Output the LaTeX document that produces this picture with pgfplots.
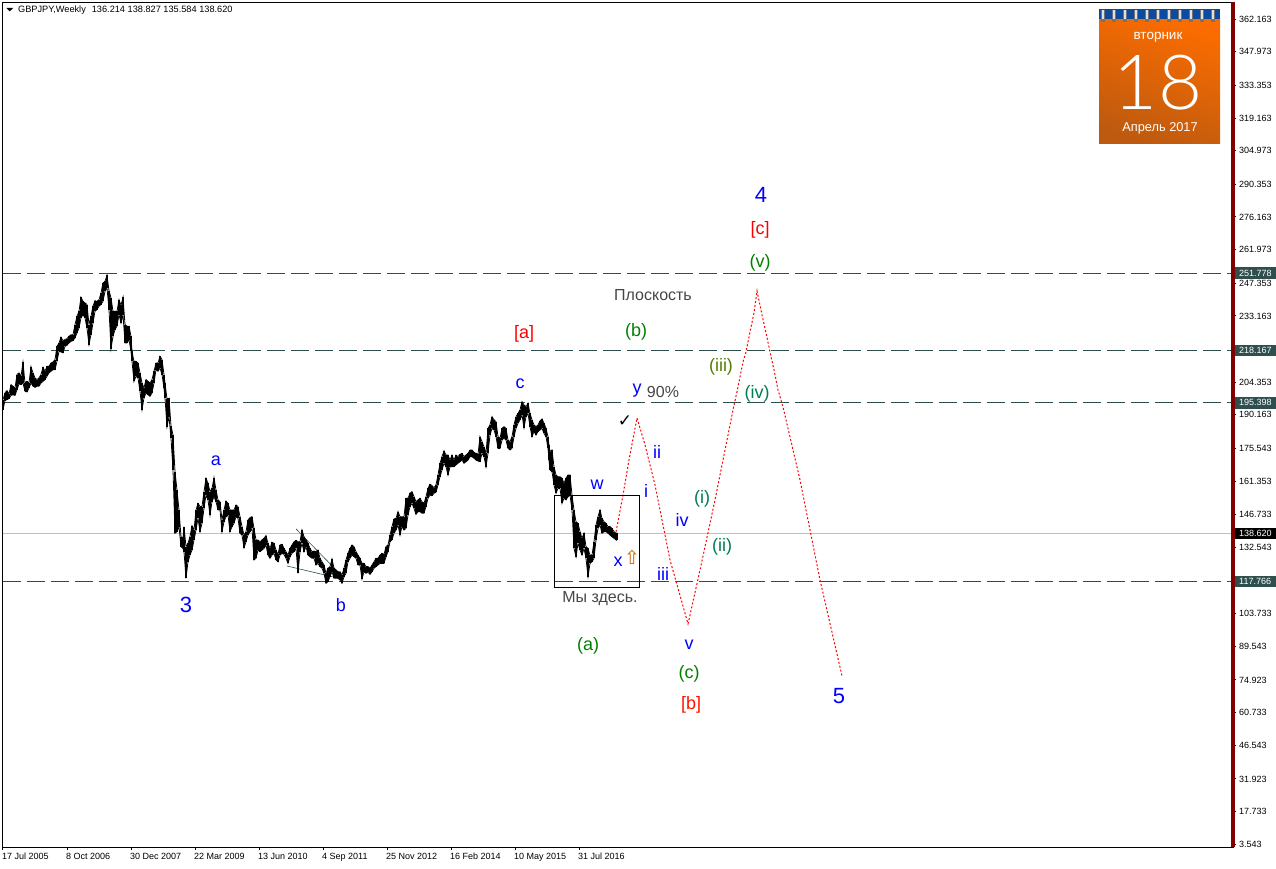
\documentclass[border=0pt]{standalone}
\usepackage{fontspec}
\setmainfont{Liberation Sans}
\newfontfamily\symfont{DejaVu Sans}
\newfontfamily\calfont[UprightFont=* Light]{Lato}
\usepackage{pgfplots}
\usepackage{pgfplotstable}
\pgfplotsset{compat=1.18}

\definecolor{lvl}{RGB}{47,79,79}
\definecolor{axred}{RGB}{128,0,0}
\definecolor{wblue}{RGB}{0,0,255}
\definecolor{wgreen}{RGB}{0,128,0}
\definecolor{wteal}{RGB}{0,125,80}
\definecolor{wolive}{RGB}{85,125,0}
\definecolor{wgray}{RGB}{70,70,70}
\definecolor{calblue}{RGB}{10,75,160}
\definecolor{calA}{RGB}{250,108,0}
\definecolor{calB}{RGB}{190,90,15}

% weekly low / high, x = bar number
\pgfplotstableread{
w lo hi
3 192.4 196.8
5 196.4 199.7
7 196.8 200.7
9 197.2 199.2
11 198.6 203.3
13 198.9 202.6
15 198.6 201.8
17 201.1 207.7
19 203.6 208.4
21 203.3 206.9
23 204.0 213.0
25 200.4 204.0
27 200.1 204.7
29 201.8 204.0
31 204.0 211.1
33 202.6 208.4
35 202.1 206.2
37 202.6 205.5
39 202.6 206.2
41 204.0 207.7
43 204.7 210.8
45 205.5 209.1
47 206.9 211.3
49 208.4 211.3
51 209.1 212.7
53 209.8 213.1
55 209.8 214.2
57 213.4 219.9
59 217.8 221.4
61 217.5 223.9
63 217.1 222.4
65 219.9 222.9
67 220.4 223.3
69 221.4 224.3
71 222.1 225.0
73 222.4 225.0
75 223.6 229.4
77 225.8 233.0
79 227.9 235.2
81 232.3 241.3
83 233.7 239.5
85 232.3 238.8
87 227.9 238.1
89 220.7 229.4
91 225.0 233.0
93 230.1 237.4
95 235.2 239.8
97 235.9 239.5
99 237.4 240.2
101 238.1 243.1
103 239.5 247.5
105 243.9 248.2
107 245.3 250.8
109 235.9 244.2
111 218.9 241.0
113 224.3 235.2
115 227.2 235.2
117 228.7 235.2
119 233.7 240.2
121 230.1 237.8
123 233.7 241.3
125 221.4 229.4
127 221.4 228.7
129 222.9 228.7
131 217.8 224.3
132 213.4 217.8
134 204.7 213.4
136 206.9 213.4
138 206.2 212.7
140 200.4 208.4
142 192.4 204.0
144 197.5 201.8
146 199.7 205.5
148 198.9 204.7
150 198.2 204.0
152 199.7 205.5
154 204.0 209.1
156 209.8 212.7
158 209.1 212.7
160 210.5 215.6
162 207.7 214.2
164 201.8 207.7
165 197.5 204.0
167 185.0 197.1
169 189.4 197.4
171 180.0 185.5
173 166.2 181.4
175 138.7 165.5
177 139.4 157.5
179 141.6 148.8
181 132.9 137.2
183 132.1 136.5
184 130.7 141.6
186 119.1 132.9
188 126.3 134.3
190 129.2 137.2
192 131.4 142.0
194 135.8 140.1
196 140.1 148.8
198 145.2 151.7
200 139.4 150.3
202 143.0 150.3
204 149.5 156.8
206 155.3 162.6
208 153.2 160.4
210 146.6 156.8
212 152.4 158.2
214 154.6 162.9
216 152.4 157.5
218 148.8 153.2
220 148.8 152.4
222 139.4 144.5
224 143.7 148.8
226 145.9 152.7
228 146.6 151.7
230 139.4 148.8
232 141.6 148.8
234 143.0 148.8
236 145.9 151.0
238 145.2 150.3
240 138.7 145.9
242 137.9 141.6
244 132.4 137.9
246 135.0 139.4
248 137.9 144.5
250 139.4 145.5
252 140.8 145.9
254 127.1 140.8
256 127.8 135.8
258 131.4 135.8
260 130.7 135.0
262 131.4 135.8
264 132.1 136.5
266 133.6 137.7
268 129.2 134.3
270 127.8 132.1
272 129.2 134.8
274 130.0 134.3
276 127.1 131.4
278 126.3 129.5
280 129.2 133.6
282 130.0 133.9
284 129.5 132.1
286 127.8 130.7
288 125.6 129.2
290 128.5 132.1
292 130.0 133.6
294 130.7 135.0
296 132.1 135.6
298 121.3 135.0
300 130.7 135.0
302 134.3 140.1
304 130.7 137.2
306 132.9 135.8
308 129.2 134.3
310 128.5 132.1
312 127.8 130.7
314 127.8 131.0
316 124.9 130.7
318 125.6 131.4
320 124.2 127.8
322 123.5 126.3
324 121.3 124.9
326 116.9 121.3
328 117.7 123.5
330 119.8 124.2
332 122.0 127.5
334 119.1 123.5
336 119.1 122.7
338 119.1 122.0
340 118.4 122.0
342 116.9 120.6
344 119.8 123.5
346 121.3 127.1
348 126.3 130.0
350 127.8 132.1
352 129.2 133.6
354 128.5 132.9
356 127.8 130.7
358 124.9 129.2
360 124.9 127.8
362 118.8 125.6
364 122.0 125.6
366 121.3 124.2
368 121.7 124.2
370 120.8 123.5
372 122.0 124.9
374 123.5 126.3
376 124.2 127.8
378 124.9 127.8
380 125.6 129.2
382 125.6 130.0
384 125.6 129.5
386 128.5 132.9
388 130.7 133.6
390 135.0 137.9
392 135.8 141.6
394 138.7 144.9
396 140.1 145.2
398 142.3 148.1
400 137.9 145.9
402 141.6 145.9
404 140.1 145.9
406 140.8 153.9
408 146.6 153.9
410 150.3 156.1
412 151.7 156.8
414 149.5 154.6
416 146.9 152.4
418 148.1 153.2
420 148.1 153.9
422 147.4 152.4
424 147.4 151.7
426 150.3 154.6
428 153.9 158.2
430 155.3 160.0
432 155.0 159.4
434 156.1 158.5
436 156.5 159.7
438 159.7 164.0
440 163.3 169.1
442 166.2 172.0
444 169.1 174.5
446 167.6 172.7
448 164.0 172.7
450 167.6 170.5
452 167.6 172.7
454 167.6 170.5
456 168.4 172.7
458 169.1 172.0
460 169.8 173.0
462 170.5 173.4
464 169.1 172.0
466 169.8 172.7
468 170.5 173.4
470 172.0 174.9
472 172.0 174.9
474 171.3 173.9
476 170.5 173.4
478 170.1 173.0
480 169.8 180.7
482 173.4 178.5
484 172.0 176.3
486 167.6 173.4
488 173.4 184.3
490 181.4 185.8
492 184.3 189.4
494 183.6 188.0
496 180.7 187.2
498 175.6 180.7
500 175.6 180.0
502 179.2 184.3
504 180.0 185.0
506 179.2 184.3
508 175.6 179.2
510 174.9 178.5
512 175.6 180.7
514 180.7 185.8
516 184.3 189.4
518 186.5 190.8
520 188.0 192.3
522 190.1 195.9
524 184.6 194.5
526 189.4 193.7
528 190.8 195.2
530 185.0 190.8
532 180.7 188.0
534 182.9 185.8
536 181.4 185.0
538 182.9 185.8
540 183.6 187.5
542 184.3 188.4
544 182.1 186.5
546 180.7 184.3
548 175.6 180.7
549 170.5 177.1
550 166.2 174.2
552 165.5 174.9
554 159.7 167.6
556 156.1 164.0
558 158.2 163.3
560 158.2 163.3
562 151.7 162.6
564 153.9 160.4
566 153.2 162.6
568 154.6 164.0
570 155.3 164.0
572 148.8 155.3
574 132.1 148.8
576 128.5 143.7
578 134.3 143.0
580 131.4 139.4
582 129.2 136.5
584 132.1 138.7
586 127.8 132.9
588 119.8 132.1
590 125.6 129.2
592 126.3 129.2
594 127.8 135.0
596 135.8 142.3
598 140.8 145.9
600 142.3 148.8
602 138.7 145.2
604 139.4 143.7
606 139.4 143.0
608 138.7 141.6
610 137.9 141.6
612 137.2 140.8
614 136.5 139.4
616 135.8 138.7
617 135.584 138.827
}\hlbars

\newcommand{\lab}[5]{\node[text=#4,font=\fontsize{#5}{#5}\selectfont,inner sep=0pt] at (axis cs:#1,#2) {#3};}
\newcommand{\tagbox}[3]{\node[fill=#3,text=white,anchor=west,inner xsep=4pt,inner ysep=0pt,minimum height=11.5pt,text width=37pt,font=\fontsize{9}{9}\selectfont] at (axis cs:1235,#1) {#2};}

\begin{document}
\begin{tikzpicture}[x=1pt,y=1pt]
\useasboundingbox (0,0) rectangle (1276,868);
\begin{axis}[
  at={(2.5pt,20.7pt)},
  anchor=south west,
  scale only axis,
  width=1230.5pt,
  height=844.8pt,
  xmin=2.5, xmax=1233,
  ymin=2.195, ymax=369.4,
  clip=false,
  axis line style={black,line width=1pt},
  tick style={black,line width=1pt},
  tick align=outside,
  major tick length=3pt,
  xtick={3,67,131,195,259,323,387,451,515,579},
  xticklabels={17 Jul 2005,8 Oct 2006,30 Dec 2007,22 Mar 2009,13 Jun 2010,4 Sep 2011,25 Nov 2012,16 Feb 2014,10 May 2015,31 Jul 2016},
  xtick pos=bottom,
  x tick label style={anchor=north west,inner sep=0pt,xshift=-1pt,yshift=-2.5pt,font=\fontsize{9}{9}\selectfont},
  ytick={362.163,347.973,333.353,319.163,304.973,290.353,276.163,261.973,247.353,233.163,204.353,190.163,175.543,161.353,146.733,132.543,103.733,89.543,74.923,60.733,46.543,31.923,17.733,3.543},
  ytick pos=right,
  yticklabel pos=right,
  y tick label style={anchor=west,inner sep=0pt,xshift=3pt,font=\fontsize{9}{9}\selectfont,
    /pgf/number format/.cd,fixed,fixed zerofill,precision=3,1000 sep={},assume math mode=true},
  scaled y ticks=false,
]
% horizontal levels
\addplot[lvl,line width=1pt,dash pattern=on 18pt off 6pt] coordinates {(3,251.778)(1231,251.778)};
\addplot[lvl,line width=1pt,dash pattern=on 18pt off 6pt] coordinates {(3,218.167)(1231,218.167)};
\addplot[lvl,line width=1pt,dash pattern=on 18pt off 6pt] coordinates {(3,195.398)(1231,195.398)};
\addplot[lvl,line width=1pt,dash pattern=on 18pt off 6pt] coordinates {(3,117.766)(1231,117.766)};
\addplot[black!25,line width=1pt] coordinates {(3,138.620)(1231,138.620)};

% triangle lines
\addplot[lvl,line width=0.6pt] coordinates {(296,140.6)(342.7,119.8)};
\addplot[lvl,line width=0.6pt] coordinates {(286.7,124.5)(342,118.8)};

% price bars
\addplot[draw=none,mark=none,error bars/.cd,y dir=plus,y explicit,error mark=none,
  error bar style={black,line width=1.3pt}]
  table[x=w,y=lo,y error expr=\thisrow{hi}-\thisrow{lo}] {\hlbars};
\addplot[black,line width=0.8pt] table[x=w,y=lo] {\hlbars};
\addplot[black,line width=0.8pt] table[x=w,y=hi] {\hlbars};

% forecast
\addplot[red,line width=1pt,dash pattern=on 2pt off 2pt] coordinates {
(616,139.3)(623,155.3)(629,170.6)(637,188.8)(645,177.1)(650,168.4)(655,159.7)(659,151.0)
(670,127.1)(688,99.3)(700,122.7)(715,153.2)(727,179.2)(733,192.3)(738,202.3)(743,213.2)
(746,217.5)(750,226.2)(754,234.5)(757,244.0)(762,233.6)(766,225.8)(770,217.5)(774,209.7)
(778,201.0)(783,193.6)(800,161.9)(820,118.4)(842,76.7)};

% box round the last bars
\addplot[black,line width=1pt] coordinates {(554.3,155.2)(639.3,155.2)(639.3,115.2)(554.3,115.2)(554.3,155.2)};

% wave labels
\lab{216}{170.2}{a}{wblue}{18}
\lab{186}{107.5}{3}{wblue}{22}
\lab{341}{107.5}{b}{wblue}{18}
\lab{520}{203.7}{c}{wblue}{18}
\lab{597}{159.7}{w}{wblue}{18}
\lab{618}{126.2}{x}{wblue}{18}
\lab{637}{200.6}{y}{wblue}{18}
\lab{663}{200.2}{90\%}{wgray}{16}
\lab{653}{242.3}{Плоскость}{wgray}{16}
\lab{524}{225.4}{[a]}{red}{18}
\lab{636}{226.2}{(b)}{wgreen}{18}
\lab{721}{211.0}{(iii)}{wolive}{18}
\lab{757}{199.2}{(iv)}{wteal}{18}
\lab{760}{256.2}{(v)}{wgreen}{18}
\lab{760}{270.5}{[c]}{red}{18}
\lab{761}{285.8}{4}{wblue}{22}
\lab{657}{174.0}{ii}{wblue}{18}
\lab{646}{157.1}{i}{wblue}{18}
\lab{682}{144.5}{iv}{wblue}{18}
\lab{702}{153.6}{(i)}{wteal}{18}
\lab{722}{132.7}{(ii)}{wteal}{18}
\lab{663}{121.0}{iii}{wblue}{18}
\lab{689}{90.1}{v}{wblue}{18}
\lab{689}{77.5}{(c)}{wgreen}{18}
\lab{691}{64.0}{[b]}{red!85!orange}{18}
\lab{839}{68.0}{5}{wblue}{22}
\lab{588}{89.7}{(a)}{wgreen}{18}
\lab{600}{110.1}{Мы здесь.}{wgray}{16}
\node[text=black,font=\symfont\fontsize{17}{17}\selectfont,inner sep=0pt] at (axis cs:625,187.5) {✓};
\node[text=orange!80!black,font=\symfont\fontsize{19}{19}\selectfont,inner sep=0pt] at (axis cs:632,128.4) {⇧};

% price tags on the scale
\tagbox{251.778}{251.778}{lvl}
\tagbox{218.167}{218.167}{lvl}
\tagbox{195.398}{195.398}{lvl}
\tagbox{117.766}{117.766}{lvl}
\tagbox{138.620}{138.620}{black}

\draw[axred,line width=4pt] (rel axis cs:1,0) -- (rel axis cs:1,1);
\end{axis}

% header and calendar, y measured from the top of the picture
\begin{scope}[y=-1pt,yshift=868pt]
\fill[black] (6.5,8) -- (13,8) -- (9.75,11.5) -- cycle;
\node[anchor=west,inner sep=0pt,font=\fontsize{9.2}{9.2}\selectfont] at (18,10) {GBPJPY,Weekly\hspace{6pt}136.214 138.827 135.584 138.620};
\shade[shading=axis,top color=calA,bottom color=calB,shading angle=-20] (1099,19) rectangle (1220,144);
\fill[calblue] (1099,9) rectangle (1220,19);
\foreach \r in {1103,1114,1125,1136,1147,1158,1169,1180,1191,1202,1213}{
  \fill[black!55] (\r-2,10) rectangle (\r+2,22);
  \fill[black!12] (\r-1.4,10) rectangle (\r+1.2,19);
}
\node[text=white,font=\fontsize{13.5}{13.5}\selectfont,inner sep=0pt] at (1158,37) {вторник};
\node[text=white,font=\calfont\fontsize{76}{76}\selectfont,inner sep=0pt] at (1158,83) {18};
\node[text=white,font=\fontsize{12.8}{12.8}\selectfont,inner sep=0pt] at (1160,128.5) {Апрель 2017};
\end{scope}
\end{tikzpicture}
\end{document}
